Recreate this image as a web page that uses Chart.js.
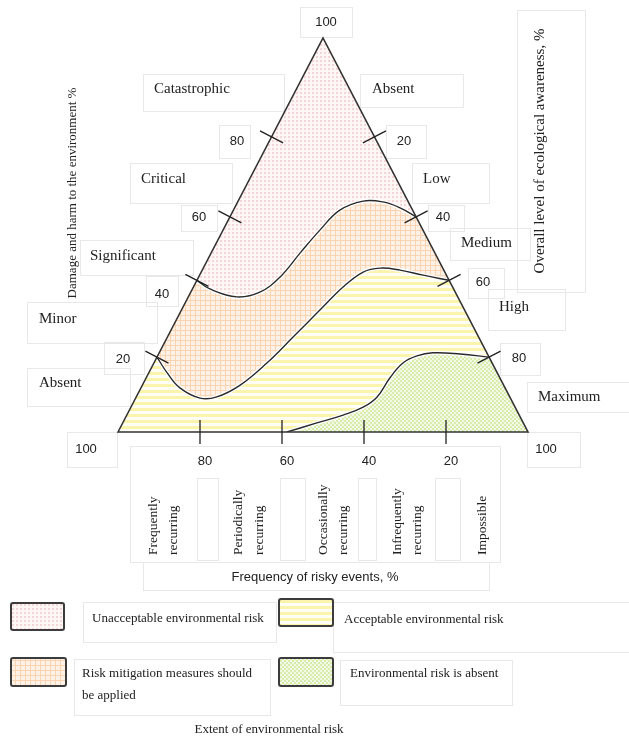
<!DOCTYPE html>
<html>
<head>
<meta charset="utf-8">
<script src="https://cdn.jsdelivr.net/npm/chart.js@4.4.1/dist/chart.umd.min.js"></script>
<style>
  html, body { margin: 0; padding: 0; background: #fff; }
  canvas { display: block; }
</style>
</head>
<body>
<canvas id="riskChart" width="629" height="740"></canvas>
<script>
// Frequency of risky events, % (base, 100 on the left)
const frequencyTicks = [80, 60, 40, 20];
const frequencyLevels = [['Frequently', 'recurring'], ['Periodically', 'recurring'], ['Occasionally', 'recurring'], ['Infrequently', 'recurring'], ['Impossible']];

// Damage and harm to the environment, % (left side)
const damageTicks = [20, 40, 60, 80];
const damageLevels = ['Catastrophic', 'Critical', 'Significant', 'Minor', 'Absent'];

// Overall level of ecological awareness, % (right side)
const awarenessTicks = [20, 40, 60, 80];
const awarenessLevels = ['Absent', 'Low', 'Medium', 'High', 'Maximum'];

const riskZones = ['Unacceptable environmental risk', 'Risk mitigation measures should be applied',
  'Acceptable environmental risk', 'Environmental risk is absent'];

// zone boundaries as [frequency %, level in triangle %]
const unacceptableEdge = [[80.75, 38.5], [77.6, 36.3], [71.0, 34.3], [65.4, 35.5], [60.5, 39.3], [55.6, 45.4],
  [50.7, 51.3], [45.9, 56.3], [40.2, 58.6], [35.4, 58.4], [31.2, 56.9], [27.3, 54.6]];
const mitigationEdge = [[90.5, 19.0], [88.0, 15.0], [84.9, 11.2], [80.0, 8.6], [75.9, 8.9], [70.2, 11.9],
  [63.7, 17.5], [57.3, 24.1], [50.7, 31.0], [45.1, 36.8], [40.2, 40.6], [36.1, 41.6], [31.2, 41.1],
  [25.6, 39.8], [19.25, 38.5]];
const noRiskEdge = [[58.8, 0], [51.5, 2.3], [45.1, 4.3], [40.2, 6.3], [36.8, 8.9], [33.7, 13.7], [30.5, 17.5],
  [27.1, 19.3], [23.2, 20.1], [16.6, 19.8], [9.5, 19.0]];

// where the side ticks sit on the drawing (height in %), matching the original sketch
const sideTickHeight = { 20: 19, 40: 38.5, 60: 54.6, 80: 74.9 };

const SERIF = '"Liberation Serif", "Times New Roman", serif';
const SANS = '"Liberation Sans", Arial, sans-serif';

function makePattern(size, paint) {
  const c = document.createElement('canvas');
  c.width = size[0];
  c.height = size[1];
  paint(c.getContext('2d'));
  return document.getElementById('riskChart').getContext('2d').createPattern(c, 'repeat');
}

const patterns = {
  pink: makePattern([4, 4], g => {
    g.fillStyle = '#fff6f6'; g.fillRect(0, 0, 4, 4);
    g.fillStyle = '#f6d5d6'; g.fillRect(0, 0, 2, 2);
  }),
  orange: makePattern([5, 5], g => {
    g.fillStyle = '#fef1e6'; g.fillRect(0, 0, 5, 5);
    g.fillStyle = '#fad4b2'; g.fillRect(0, 0, 5, 1); g.fillRect(0, 0, 1, 5);
  }),
  yellow: makePattern([6, 6], g => {
    g.fillStyle = '#fffef4'; g.fillRect(0, 0, 6, 6);
    g.fillStyle = '#fbf4ad'; g.fillRect(0, 0, 6, 3);
  }),
  green: makePattern([4, 4], g => {
    g.fillStyle = '#f3f9e4'; g.fillRect(0, 0, 4, 4);
    g.fillStyle = '#d8ecad'; g.fillRect(0, 0, 2, 2); g.fillRect(2, 2, 2, 2);
  })
};

const toPoints = arr => arr.map(([x, y]) => ({ x, y }));

function curve(label, data) {
  return {
    label,
    data: toPoints(data),
    showLine: true,
    borderColor: '#2a2a2a',
    borderWidth: 1.4,
    tension: 0.4,
    pointRadius: 0,
    fill: false
  };
}

function text(ctx, str, x, y, font, align) {
  ctx.font = font;
  ctx.textAlign = align || 'left';
  ctx.textBaseline = 'middle';
  ctx.fillText(str, x, y);
}

function vtext(ctx, str, x, y, font, align) {
  ctx.save();
  ctx.translate(x, y);
  ctx.rotate(-Math.PI / 2);
  text(ctx, str, 0, 0, font, align);
  ctx.restore();
}

const ternaryPlugin = {
  id: 'ternary',
  beforeDatasetsDraw(chart) {
    const { ctx, chartArea } = chart;
    const sx = chart.scales.x, sy = chart.scales.y;
    const BL = [sx.getPixelForValue(100), sy.getPixelForValue(0)];
    const BR = [sx.getPixelForValue(0), sy.getPixelForValue(0)];
    const AP = [sx.getPixelForValue(50), sy.getPixelForValue(100)];
    const lines = [0, 1, 2].map(i => {
      const line = chart.getDatasetMeta(i).dataset;
      line.updateControlPoints(chartArea, 'x');
      return line;
    });

    ctx.save();
    // whole triangle: unacceptable risk
    ctx.beginPath();
    ctx.moveTo(...BL); ctx.lineTo(...AP); ctx.lineTo(...BR); ctx.closePath();
    ctx.fillStyle = patterns.pink; ctx.fill();

    const zones = [[lines[0], [BR, BL], patterns.orange], [lines[1], [BR, BL], patterns.yellow], [lines[2], [BR], patterns.green]];
    zones.forEach(([line, corners, fill]) => {
      ctx.beginPath();
      line.path(ctx);
      corners.forEach(c => ctx.lineTo(...c));
      ctx.closePath();
      ctx.fillStyle = fill;
      ctx.fill();
    });

    // white halo under the boundary lines
    lines.forEach(line => {
      ctx.beginPath();
      line.path(ctx);
      ctx.strokeStyle = '#ffffff';
      ctx.lineWidth = 4;
      ctx.stroke();
    });
    ctx.restore();
  },
  afterDatasetsDraw(chart) {
    const { ctx } = chart;
    const sx = chart.scales.x, sy = chart.scales.y;
    const P = (f, h) => [sx.getPixelForValue(f), sy.getPixelForValue(h)];
    const BL = P(100, 0), BR = P(0, 0), AP = P(50, 100);

    ctx.save();
    // faint text-box frames
    const frames = [[300, 7, 52, 30], [143, 74, 141, 37], [360, 74, 103, 33], [219, 125, 31, 33], [386, 125, 40, 33],
      [130, 163, 102, 40], [412, 163, 77, 40], [181, 205, 36, 26], [428, 205, 36, 26], [80, 240, 113, 35],
      [450, 228, 80, 32], [517, 10, 68, 282], [146, 276, 32, 30], [468, 268, 36, 30], [488, 289, 77, 41],
      [27, 302, 130, 41], [104, 342, 40, 32], [500, 343, 40, 32], [27, 368, 103, 38], [527, 382, 102, 30],
      [67, 432, 50, 35], [527, 432, 53, 35], [130, 446, 370, 116], [197, 478, 21, 82], [280, 478, 25, 82],
      [358, 478, 18, 82], [435, 478, 25, 82], [143, 562, 346, 28],
      [83, 602, 193, 40], [333, 602, 296, 50], [74, 659, 196, 56], [340, 660, 172, 45]];
    ctx.strokeStyle = '#e8e8e8';
    ctx.lineWidth = 1;
    frames.forEach(([x, y, w, h]) => ctx.strokeRect(x + 0.5, y + 0.5, w, h));

    // triangle outline
    ctx.beginPath();
    ctx.moveTo(...BL); ctx.lineTo(...AP); ctx.lineTo(...BR); ctx.closePath();
    ctx.strokeStyle = '#333';
    ctx.lineWidth = 1.6;
    ctx.stroke();

    // tick marks
    const unit = (a, b) => { const dx = b[0] - a[0], dy = b[1] - a[1], l = Math.hypot(dx, dy); return [dx / l, dy / l]; };
    const dl = unit(BL, AP), dr = unit(BR, AP);
    const nl = [-dl[1], dl[0]], nr = [dr[1], -dr[0]];
    const tick = (p, n, len) => {
      ctx.beginPath();
      ctx.moveTo(p[0] - n[0] * len, p[1] - n[1] * len);
      ctx.lineTo(p[0] + n[0] * len, p[1] + n[1] * len);
      ctx.stroke();
    };
    ctx.lineWidth = 1.3;
    ctx.strokeStyle = '#222';
    damageTicks.forEach(v => { const h = sideTickHeight[v]; tick(P(100 - h / 2, h), nl, 13); });
    awarenessTicks.forEach(v => { const h = sideTickHeight[100 - v]; tick(P(h / 2, h), nr, 13); });
    frequencyTicks.forEach(v => tick(P(v, 0), [0, 1], 12));

    ctx.fillStyle = '#222';
    const num = '13px ' + SANS;
    const lab = '15px ' + SERIF;
    // corner values
    text(ctx, '100', 326, 22, num, 'center');
    text(ctx, '100', 86, 449, num, 'center');
    text(ctx, '100', 546, 449, num, 'center');
    // left side: damage
    const damageLabelPos = { 80: [237, 141], 60: [199, 217], 40: [162, 294], 20: [123, 359] };
    damageTicks.forEach(v => text(ctx, String(v), ...damageLabelPos[v], num, 'center'));
    [[154, 89], [141, 179], [90, 256], [39, 319], [39, 383]].forEach((p, i) => text(ctx, damageLevels[i], ...p, lab));
    // right side: awareness
    const awareLabelPos = { 20: [404, 141], 40: [443, 217], 60: [483, 282], 80: [519, 358] };
    awarenessTicks.forEach(v => text(ctx, String(v), ...awareLabelPos[v], num, 'center'));
    [[372, 89], [423, 179], [461, 243], [499, 307], [538, 397]].forEach((p, i) => text(ctx, awarenessLevels[i], ...p, lab));
    // base: frequency
    frequencyTicks.forEach(v => text(ctx, String(v), sx.getPixelForValue(v) + 5, 461, num, 'center'));
    const cols = [[153, 173], [238, 259], [323, 343], [397, 417], [482]];
    frequencyLevels.forEach((lines, i) => lines.forEach((s, j) => vtext(ctx, s, cols[i][j], 555, '13.5px ' + SERIF, 'left')));
    text(ctx, 'Frequency of risky events, %', 315, 577, '13px ' + SANS, 'center');

    // axis titles
    vtext(ctx, 'Damage and harm to the environment %', 73, 193, '13px ' + SERIF, 'center');
    vtext(ctx, 'Overall level of ecological awareness, %', 540, 151, '15px ' + SERIF, 'center');

    // legend
    const swatches = [[11, 603, 53, 27, patterns.pink], [11, 658, 55, 28, patterns.orange],
      [279, 599, 54, 27, patterns.yellow], [279, 658, 54, 28, patterns.green]];
    swatches.forEach(([x, y, w, h, fill]) => {
      ctx.beginPath();
      ctx.roundRect(x, y, w, h, 2);
      ctx.fillStyle = fill;
      ctx.fill();
      ctx.strokeStyle = '#3c3c3c';
      ctx.lineWidth = 2;
      ctx.stroke();
    });
    ctx.fillStyle = '#222';
    const leg = '13px ' + SERIF;
    text(ctx, riskZones[0], 92, 619, leg);
    text(ctx, 'Risk mitigation measures should', 82, 674, leg);
    text(ctx, 'be applied', 82, 696, leg);
    text(ctx, riskZones[2], 344, 620, leg);
    text(ctx, riskZones[3], 350, 674, leg);
    text(ctx, 'Extent of environmental risk', 269, 730, leg, 'center');
    ctx.restore();
  }
};

new Chart(document.getElementById('riskChart'), {
  type: 'scatter',
  data: {
    datasets: [
      curve(riskZones[0], unacceptableEdge),
      curve(riskZones[1], mitigationEdge),
      curve(riskZones[3], noRiskEdge)
    ]
  },
  options: {
    responsive: false,
    animation: false,
    devicePixelRatio: 1,
    layout: { padding: { left: 118, right: 101, top: 38, bottom: 308 } },
    scales: {
      x: { type: 'linear', min: 0, max: 100, reverse: true, display: false },
      y: { type: 'linear', min: 0, max: 100, display: false }
    },
    plugins: { legend: { display: false }, tooltip: { enabled: false } }
  },
  plugins: [ternaryPlugin]
});
</script>
</body>
</html>
